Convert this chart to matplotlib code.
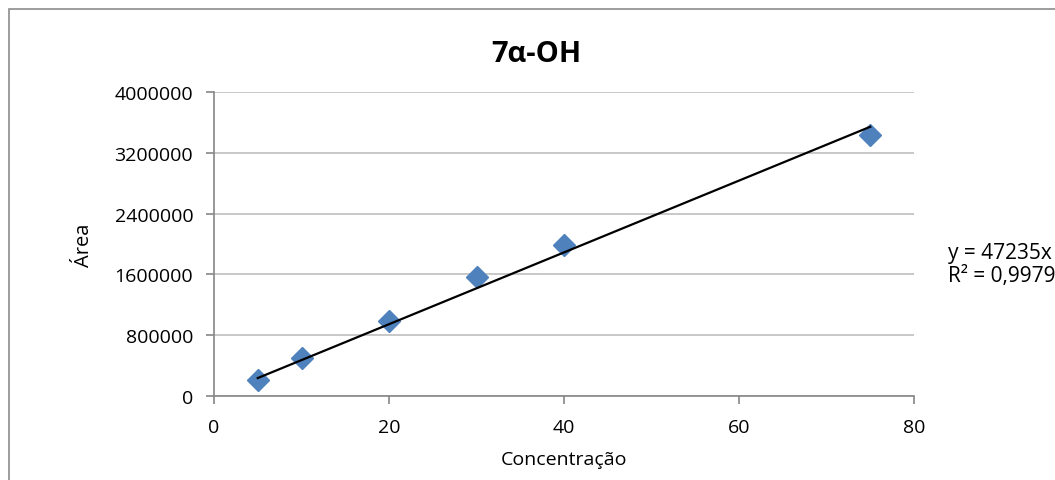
import numpy as np
import matplotlib.pyplot as plt
from matplotlib.patches import Rectangle

# data
conc = [5, 10, 20, 30, 40, 75]
area = [214000, 500000, 991000, 1570000, 1991000, 3434000]
slope = 47235
r2_text = "R² = 0,9979"
x_ticks = [0, 20, 40, 60, 80]
y_ticks = [0, 800000, 1600000, 2400000, 3200000, 4000000]

plt.rcParams['font.family'] = ['Open Sans', 'DejaVu Sans']

W, H = 1055, 481
fig = plt.figure(figsize=(W / 100, H / 100), dpi=100)
ax = fig.add_axes([214 / W, 1 - 397 / H, 700 / W, 304 / H])

# outer chart border (cut off on the right and bottom)
fig.patches.append(Rectangle((9 / W, -0.1), 1.2, 1 - 10 / H + 0.1,
                             transform=fig.transFigure, fill=False,
                             edgecolor='#8c8c8c', linewidth=1.2))

ax.plot(conc, area, linestyle='none', marker='D', markersize=11,
        color='#4f81bd', zorder=3)
xfit = np.array([conc[0], conc[-1]])
ax.plot(xfit, slope * xfit, color='black', linewidth=1.6, zorder=4)

ax.set_xlim(x_ticks[0], x_ticks[-1])
ax.set_ylim(y_ticks[0], y_ticks[-1])
ax.set_xticks(x_ticks)
ax.set_yticks(y_ticks)
ax.set_yticklabels([str(v) for v in y_ticks])
ax.yaxis.grid(True, color='#bfbfbf', linewidth=1.2)
ax.set_axisbelow(True)
for s in ['top', 'right']:
    ax.spines[s].set_visible(False)
for s in ['left', 'bottom']:
    ax.spines[s].set_color('#868686')
    ax.spines[s].set_linewidth(1.2)
ax.tick_params(axis='both', direction='out', length=6, width=1.2,
               color='#868686', labelsize=14)
ax.tick_params(axis='x', pad=10)
ax.tick_params(axis='y', pad=9)

fig.text(536 / W, 1 - 55 / H, '7α-OH', fontsize=21, fontweight='bold',
         ha='center', va='center')
ax.set_xlabel('Concentração', fontsize=14, labelpad=10)
ax.set_ylabel('Área', fontsize=14.5, labelpad=15)

fig.text(948 / W, 1 - 253 / H, f"y = {slope}x", fontsize=15, va='center')
fig.text(948 / W, 1 - 277 / H, r2_text, fontsize=15, va='center')

fig.savefig('out.png', dpi=100)
